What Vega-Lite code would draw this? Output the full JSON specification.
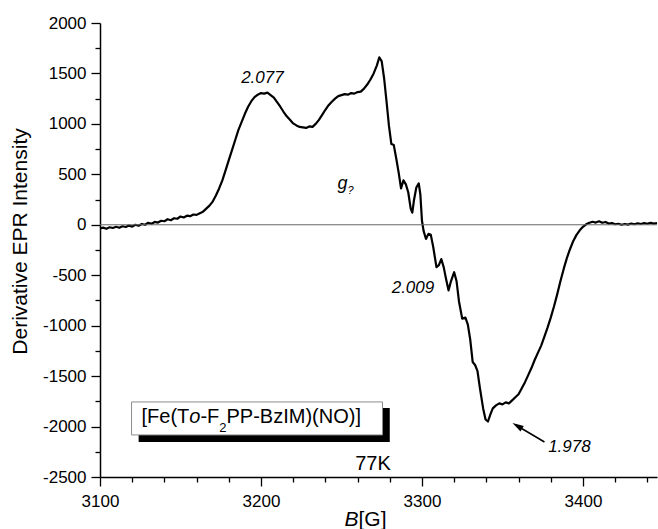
{
  "$schema": "https://vega.github.io/schema/vega-lite/v6.json",
  "autosize": "none",
  "width": 557,
  "height": 454,
  "padding": {"left": 100, "top": 23, "right": 1, "bottom": 52},
  "background": "white",
  "config": {
    "view": {"stroke": null},
    "font": "Liberation Sans",
    "axis": {"grid": false, "domainColor": "black", "domainWidth": 1.5, "tickColor": "black", "tickWidth": 1.3, "labelColor": "black", "labelFont": "Liberation Sans", "labelFontSize": 17, "titleFont": "Liberation Sans", "titleColor": "black", "titleFontWeight": "normal", "titleFontSize": 21}
  },
  "datasets": {
    "spectrum": [
      {"B": 3100, "I": -35}, {"B": 3102, "I": -28}, {"B": 3104, "I": -40}, {"B": 3106, "I": -25}, {"B": 3108, "I": -32},
      {"B": 3110, "I": -20}, {"B": 3112, "I": -30}, {"B": 3114, "I": -15}, {"B": 3116, "I": -22}, {"B": 3118, "I": -8},
      {"B": 3120, "I": -18}, {"B": 3122, "I": 0}, {"B": 3124, "I": -10}, {"B": 3126, "I": 8}, {"B": 3128, "I": 0},
      {"B": 3130, "I": 20}, {"B": 3132, "I": 10}, {"B": 3134, "I": 28}, {"B": 3136, "I": 22}, {"B": 3138, "I": 40},
      {"B": 3140, "I": 35}, {"B": 3142, "I": 55}, {"B": 3144, "I": 45}, {"B": 3146, "I": 65}, {"B": 3148, "I": 60},
      {"B": 3150, "I": 82}, {"B": 3152, "I": 72}, {"B": 3154, "I": 90}, {"B": 3156, "I": 85}, {"B": 3158, "I": 102},
      {"B": 3160, "I": 98}, {"B": 3162, "I": 115}, {"B": 3164, "I": 130}, {"B": 3166, "I": 160}, {"B": 3168, "I": 190},
      {"B": 3170, "I": 230}, {"B": 3172, "I": 290}, {"B": 3174, "I": 360}, {"B": 3176, "I": 440}, {"B": 3178, "I": 540},
      {"B": 3180, "I": 640}, {"B": 3182, "I": 740}, {"B": 3184, "I": 840}, {"B": 3186, "I": 940}, {"B": 3188, "I": 1020},
      {"B": 3190, "I": 1100}, {"B": 3192, "I": 1170}, {"B": 3194, "I": 1225}, {"B": 3196, "I": 1265}, {"B": 3198, "I": 1290},
      {"B": 3200, "I": 1305}, {"B": 3202, "I": 1300}, {"B": 3204, "I": 1310}, {"B": 3206, "I": 1285}, {"B": 3208, "I": 1260},
      {"B": 3210, "I": 1215}, {"B": 3212, "I": 1170}, {"B": 3214, "I": 1120}, {"B": 3216, "I": 1075}, {"B": 3218, "I": 1040},
      {"B": 3220, "I": 1005}, {"B": 3222, "I": 985}, {"B": 3224, "I": 970}, {"B": 3226, "I": 965}, {"B": 3228, "I": 960},
      {"B": 3230, "I": 975}, {"B": 3232, "I": 970}, {"B": 3234, "I": 1000}, {"B": 3236, "I": 1040}, {"B": 3238, "I": 1090},
      {"B": 3240, "I": 1140}, {"B": 3242, "I": 1185}, {"B": 3244, "I": 1220}, {"B": 3246, "I": 1250}, {"B": 3248, "I": 1275},
      {"B": 3250, "I": 1285}, {"B": 3252, "I": 1295}, {"B": 3254, "I": 1290}, {"B": 3256, "I": 1305}, {"B": 3258, "I": 1300},
      {"B": 3260, "I": 1315}, {"B": 3262, "I": 1320}, {"B": 3264, "I": 1350}, {"B": 3266, "I": 1390}, {"B": 3268, "I": 1440},
      {"B": 3270, "I": 1500}, {"B": 3272, "I": 1580}, {"B": 3273.5, "I": 1660}, {"B": 3275, "I": 1620}, {"B": 3276.5, "I": 1450},
      {"B": 3278, "I": 1220}, {"B": 3279.5, "I": 980}, {"B": 3281, "I": 800}, {"B": 3282.5, "I": 790}, {"B": 3284, "I": 660},
      {"B": 3285.5, "I": 520}, {"B": 3287, "I": 360}, {"B": 3288.5, "I": 440}, {"B": 3290, "I": 400}, {"B": 3291.5, "I": 320},
      {"B": 3293, "I": 160}, {"B": 3294, "I": 120}, {"B": 3295, "I": 240}, {"B": 3296.5, "I": 370}, {"B": 3298, "I": 410},
      {"B": 3299, "I": 300}, {"B": 3300, "I": 40}, {"B": 3301, "I": -60}, {"B": 3302.5, "I": -140}, {"B": 3304, "I": -90},
      {"B": 3305.5, "I": -100}, {"B": 3307, "I": -220}, {"B": 3309, "I": -420}, {"B": 3310.5, "I": -400}, {"B": 3312, "I": -340},
      {"B": 3313.5, "I": -420}, {"B": 3315, "I": -540}, {"B": 3316.5, "I": -650}, {"B": 3318, "I": -560}, {"B": 3320, "I": -470},
      {"B": 3321.5, "I": -560}, {"B": 3323, "I": -760}, {"B": 3325, "I": -930}, {"B": 3327, "I": -920}, {"B": 3328.5, "I": -990},
      {"B": 3330, "I": -1140}, {"B": 3331.5, "I": -1360}, {"B": 3333, "I": -1390}, {"B": 3334.5, "I": -1450}, {"B": 3336, "I": -1620},
      {"B": 3338, "I": -1820}, {"B": 3339.5, "I": -1930}, {"B": 3341, "I": -1950}, {"B": 3342.5, "I": -1880}, {"B": 3344, "I": -1820},
      {"B": 3346, "I": -1790}, {"B": 3348, "I": -1770}, {"B": 3350, "I": -1780}, {"B": 3352, "I": -1760}, {"B": 3354, "I": -1770},
      {"B": 3356, "I": -1740}, {"B": 3358, "I": -1710}, {"B": 3360, "I": -1680}, {"B": 3362, "I": -1620}, {"B": 3364, "I": -1560},
      {"B": 3366, "I": -1490}, {"B": 3368, "I": -1420}, {"B": 3370, "I": -1340}, {"B": 3372, "I": -1270}, {"B": 3374, "I": -1200},
      {"B": 3376, "I": -1110}, {"B": 3378, "I": -1020}, {"B": 3380, "I": -920}, {"B": 3382, "I": -810}, {"B": 3384, "I": -690},
      {"B": 3386, "I": -560}, {"B": 3388, "I": -440}, {"B": 3390, "I": -330}, {"B": 3392, "I": -240}, {"B": 3394, "I": -160},
      {"B": 3396, "I": -100}, {"B": 3398, "I": -55}, {"B": 3400, "I": -20}, {"B": 3402, "I": 5}, {"B": 3404, "I": 20},
      {"B": 3406, "I": 30}, {"B": 3408, "I": 22}, {"B": 3410, "I": 35}, {"B": 3412, "I": 20}, {"B": 3414, "I": 28},
      {"B": 3416, "I": 12}, {"B": 3418, "I": 18}, {"B": 3420, "I": 5}, {"B": 3422, "I": 10}, {"B": 3424, "I": 0},
      {"B": 3426, "I": 8}, {"B": 3428, "I": 2}, {"B": 3430, "I": 12}, {"B": 3432, "I": 5}, {"B": 3434, "I": 15},
      {"B": 3436, "I": 8}, {"B": 3438, "I": 18}, {"B": 3440, "I": 10}, {"B": 3442, "I": 20}, {"B": 3444, "I": 12},
      {"B": 3446, "I": 18}
    ],
    "zeroLine": [{"I": 0}],
    "legendBox": [
      {"part": "shadow", "B": 3124, "B2": 3280, "I": -1815, "I2": -2153},
      {"part": "box", "B": 3119.6, "B2": 3275.5, "I": -1756, "I2": -2083}
    ],
    "arrow": [
      {"part": "tail", "B": 3376.1, "I": -2153},
      {"part": "tip", "B": 3358, "I": -1982},
      {"part": "head", "B": 3359.4, "I": -1995}
    ],
    "notes": [
      {"role": "g-value", "B": 3200.9, "I": 1405, "text": "2.077"},
      {"role": "g-value", "B": 3294.4, "I": -676, "text": "2.009"},
      {"role": "g-value", "B": 3391.6, "I": -2252, "text": "1.978"},
      {"role": "g-symbol", "B": 3247.5, "I": 351, "text": "g"},
      {"role": "g-sub", "B": 3253.7, "I": 305, "text": "?"},
      {"role": "temp", "B": 3269.6, "I": -2430, "text": "77K"},
      {"role": "formula", "B": 3125.8, "I": -1964, "text": "[Fe(T"},
      {"role": "formula-italic", "B": 3155.5, "I": -1964, "text": "o"},
      {"role": "formula", "B": 3162.4, "I": -1964, "text": "-F"},
      {"role": "formula-sub", "B": 3174.1, "I": -2054, "text": "2"},
      {"role": "formula", "B": 3178.6, "I": -1964, "text": "PP-BzIM)(NO)]"},
      {"role": "axis-var", "B": 3251.9, "I": -2985, "text": "B"},
      {"role": "axis-unit", "B": 3260.6, "I": -2985, "text": "[G]"}
    ]
  },
  "encoding": {
    "x": {
      "field": "B", "type": "quantitative",
      "scale": {"domain": [3100, 3446], "nice": false, "zero": false},
      "axis": {
        "title": null,
        "values": [3100, 3120, 3140, 3160, 3180, 3200, 3220, 3240, 3260, 3280, 3300, 3320, 3340, 3360, 3380, 3400, 3420, 3440],
        "labelExpr": "datum.value % 100 === 0 ? '' + datum.value : ''",
        "tickSize": {"condition": {"test": "datum.value % 100 === 0", "value": 9}, "value": 5},
        "labelPadding": 7, "labelFlush": false, "labelOverlap": false
      }
    },
    "y": {
      "field": "I", "type": "quantitative",
      "scale": {"domain": [-2500, 2000], "nice": false, "zero": false},
      "axis": {
        "title": "Derivative EPR Intensity",
        "values": [-2500, -2250, -2000, -1750, -1500, -1250, -1000, -750, -500, -250, 0, 250, 500, 750, 1000, 1250, 1500, 1750, 2000],
        "labelExpr": "datum.value % 500 === 0 ? '' + datum.value : ''",
        "tickSize": {"condition": {"test": "datum.value % 500 === 0", "value": 9}, "value": 5},
        "labelPadding": 5, "labelFlush": false, "labelOverlap": false,
        "titleAngle": -90, "titleX": -74, "titleY": 218, "titleAlign": "center", "titleBaseline": "alphabetic"
      }
    }
  },
  "layer": [
    {
      "data": {"name": "spectrum"},
      "mark": {"type": "line", "color": "black", "strokeWidth": 2.2, "strokeJoin": "round"}
    },
    {
      "data": {"name": "zeroLine"},
      "mark": {"type": "rule", "color": "#666666", "strokeWidth": 1},
      "encoding": {"x": null}
    },
    {
      "data": {"name": "legendBox"},
      "transform": [{"filter": "datum.part === 'shadow'"}],
      "mark": {"type": "rect", "color": "black"},
      "encoding": {"x2": {"field": "B2"}, "y2": {"field": "I2"}}
    },
    {
      "data": {"name": "legendBox"},
      "transform": [{"filter": "datum.part === 'box'"}],
      "mark": {"type": "rect", "fill": "white", "stroke": "#8c8c8c", "strokeWidth": 1},
      "encoding": {"x2": {"field": "B2"}, "y2": {"field": "I2"}}
    },
    {
      "data": {"name": "arrow"},
      "transform": [{"filter": "datum.part !== 'head'"}],
      "mark": {"type": "line", "color": "black", "strokeWidth": 1.5}
    },
    {
      "data": {"name": "arrow"},
      "transform": [{"filter": "datum.part === 'head'"}],
      "mark": {"type": "point", "shape": "M0,-1L0.55,0.9L-0.55,0.9Z", "filled": true, "color": "black", "opacity": 1, "size": 140, "angle": 301}
    },
    {
      "data": {"name": "notes"},
      "transform": [{"filter": "datum.role === 'g-value'"}],
      "mark": {"type": "text", "fontStyle": "italic", "fontSize": 17, "align": "center", "baseline": "alphabetic", "color": "black"},
      "encoding": {"text": {"field": "text"}}
    },
    {
      "data": {"name": "notes"},
      "transform": [{"filter": "datum.role === 'g-symbol'"}],
      "mark": {"type": "text", "fontStyle": "italic", "fontSize": 18, "align": "left", "baseline": "alphabetic", "color": "black"},
      "encoding": {"text": {"field": "text"}}
    },
    {
      "data": {"name": "notes"},
      "transform": [{"filter": "datum.role === 'g-sub'"}],
      "mark": {"type": "text", "fontStyle": "italic", "fontSize": 11, "align": "left", "baseline": "alphabetic", "color": "black"},
      "encoding": {"text": {"field": "text"}}
    },
    {
      "data": {"name": "notes"},
      "transform": [{"filter": "datum.role === 'temp'"}],
      "mark": {"type": "text", "fontSize": 20, "align": "center", "baseline": "alphabetic", "color": "black"},
      "encoding": {"text": {"field": "text"}}
    },
    {
      "data": {"name": "notes"},
      "transform": [{"filter": "datum.role === 'formula'"}],
      "mark": {"type": "text", "fontSize": 20, "align": "left", "baseline": "alphabetic", "color": "black"},
      "encoding": {"text": {"field": "text"}}
    },
    {
      "data": {"name": "notes"},
      "transform": [{"filter": "datum.role === 'formula-italic'"}],
      "mark": {"type": "text", "fontSize": 20, "fontStyle": "italic", "align": "left", "baseline": "alphabetic", "color": "black"},
      "encoding": {"text": {"field": "text"}}
    },
    {
      "data": {"name": "notes"},
      "transform": [{"filter": "datum.role === 'formula-sub'"}],
      "mark": {"type": "text", "fontSize": 13, "align": "left", "baseline": "alphabetic", "color": "black"},
      "encoding": {"text": {"field": "text"}}
    },
    {
      "data": {"name": "notes"},
      "transform": [{"filter": "datum.role === 'axis-var'"}],
      "mark": {"type": "text", "fontSize": 21, "fontStyle": "italic", "align": "left", "baseline": "alphabetic", "color": "black"},
      "encoding": {"text": {"field": "text"}}
    },
    {
      "data": {"name": "notes"},
      "transform": [{"filter": "datum.role === 'axis-unit'"}],
      "mark": {"type": "text", "fontSize": 21, "align": "left", "baseline": "alphabetic", "color": "black"},
      "encoding": {"text": {"field": "text"}}
    }
  ]
}
